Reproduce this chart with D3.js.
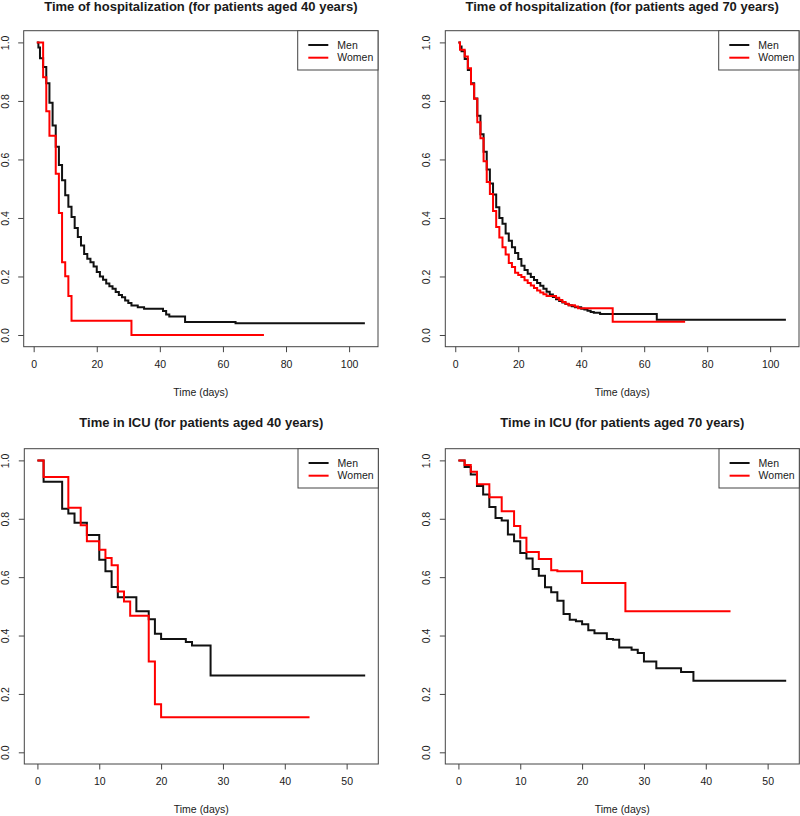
<!DOCTYPE html>
<html><head><meta charset="utf-8">
<script src="https://cdn.jsdelivr.net/npm/d3@7"></script>
<style>
body{margin:0;background:#fff}
svg{display:block}
text{font-family:"Liberation Sans",Arial,Helvetica,sans-serif;fill:#1a1a1a}
</style>
</head><body>
<script>
// ---------- DATA ----------
const seriesNames = ["Men", "Women"];
const seriesColors = ["#111111", "#ff0000"];

// Panel 1: hospitalization, 40 years
const hosp40MenTime = [1,1.5,2,3,4,5,6,7,8,9,10,11,12,13,14,15,16,17,18,19,20,21,22,23,24,25,26,27,28,29,30,31,33,35,41,42,43,48,64,105];
const hosp40MenSurv = [1.0,0.983,0.946,0.916,0.86,0.794,0.716,0.643,0.581,0.529,0.478,0.438,0.403,0.366,0.335,0.306,0.277,0.261,0.249,0.234,0.215,0.200,0.189,0.176,0.167,0.158,0.147,0.137,0.129,0.118,0.109,0.101,0.095,0.090,0.082,0.070,0.063,0.044,0.040,0.040];
const hosp40WomenTime = [1,3,4,5,7,8,9,10,11,12,31,73];
const hosp40WomenSurv = [1.0,0.881,0.765,0.681,0.551,0.417,0.249,0.201,0.133,0.049,0.0,0.0];

// Panel 2: hospitalization, 70 years
const hosp70MenTime = [1,1.5,2,3,4,5,6,7,8,9,10,11,12,13,14,15,16,17,18,19,20,21,22,23,24,25,26,27,28,29,30,31,32,33,34,35,36,37,38,40,41,42,43,44,46,64,105];
const hosp70MenSurv = [1.0,0.986,0.97,0.943,0.906,0.86,0.808,0.749,0.686,0.626,0.566,0.518,0.48,0.437,0.40,0.38,0.347,0.322,0.30,0.28,0.26,0.237,0.222,0.209,0.198,0.188,0.178,0.168,0.158,0.148,0.138,0.13,0.122,0.116,0.111,0.106,0.102,0.098,0.095,0.09,0.087,0.083,0.079,0.076,0.072,0.052,0.052];
const hosp70WomenTime = [1,1.5,3,4,5,6,7,8,9,10,11,12,13,14,15,16,17,18,19,20,21,22,23,24,25,26,27,28,29,32,33,34,35,36,38,39,50,73];
const hosp70WomenSurv = [1.0,0.975,0.952,0.912,0.857,0.807,0.727,0.672,0.594,0.523,0.482,0.424,0.369,0.333,0.300,0.275,0.246,0.232,0.213,0.205,0.198,0.187,0.178,0.169,0.161,0.152,0.145,0.139,0.133,0.127,0.12,0.113,0.107,0.102,0.097,0.091,0.045,0.045];

// Panel 3: ICU, 40 years
const icu40MenTime = [0,1,4,5,6,8,10,11,12,13,16,18,19,20,24,25,28,53];
const icu40MenSurv = [1.0,0.927,0.834,0.818,0.786,0.744,0.66,0.62,0.566,0.531,0.483,0.456,0.406,0.388,0.378,0.366,0.263,0.263];
const icu40WomenTime = [0,1,5,7,8,10,11,12,13,14,15,18,19,20,44];
const icu40WomenSurv = [1.0,0.943,0.838,0.778,0.723,0.694,0.666,0.641,0.551,0.517,0.468,0.311,0.165,0.12,0.12];

// Panel 4: ICU, 70 years
const icu70MenTime = [0,1,2,3,4,5,6,7,8,9,10,11,12,13,14,15,16,17,18,19,20,21,22,24,25,26,28,29,30,32,36,38,53];
const icu70MenSurv = [1.0,0.977,0.952,0.912,0.883,0.84,0.803,0.794,0.746,0.723,0.683,0.664,0.628,0.605,0.565,0.548,0.519,0.474,0.454,0.449,0.439,0.418,0.408,0.388,0.386,0.359,0.351,0.34,0.311,0.288,0.275,0.245,0.245];
const icu70WomenTime = [0,1,2,3,5,7,9,10,11,13,15,16,20,27,44];
const icu70WomenSurv = [1.0,0.984,0.961,0.918,0.874,0.826,0.775,0.735,0.686,0.662,0.624,0.62,0.58,0.483,0.483];

const hospXTicks = [0,20,40,60,80,100];
const icuXTicks = [0,10,20,30,40,50];
const yTicks = [0,0.2,0.4,0.6,0.8,1.0];
const xLabel = "Time (days)";

// ---------- LAYOUT ----------
const svg = d3.select("body").append("svg").attr("width",800).attr("height",816);

const panels = [
  {title:"Time of hospitalization (for patients aged 40 years)", box:{l:23.7,t:30.7,r:378,b:346.7},
   series:[[hosp40MenTime,hosp40MenSurv],[hosp40WomenTime,hosp40WomenSurv]], xTicks:hospXTicks},
  {title:"Time of hospitalization (for patients aged 70 years)", box:{l:445.3,t:30.7,r:799,b:346.7},
   series:[[hosp70MenTime,hosp70MenSurv],[hosp70WomenTime,hosp70WomenSurv]], xTicks:hospXTicks},
  {title:"Time in ICU (for patients aged 40 years)", box:{l:24.3,t:448.7,r:378.3,b:764},
   series:[[icu40MenTime,icu40MenSurv],[icu40WomenTime,icu40WomenSurv]], xTicks:icuXTicks},
  {title:"Time in ICU (for patients aged 70 years)", box:{l:445.3,t:448.7,r:799.3,b:764},
   series:[[icu70MenTime,icu70MenSurv],[icu70WomenTime,icu70WomenSurv]], xTicks:icuXTicks}
];

function padDomain(lo, hi){ const p=(hi-lo)*0.04; return [lo-p, hi+p]; }

panels.forEach(p => {
  const b = p.box;
  const allT = p.series.flatMap(s => s[0]);
  const x = d3.scaleLinear().domain(padDomain(d3.min(allT), d3.max(allT))).range([b.l, b.r]);
  const y = d3.scaleLinear().domain(padDomain(0, 1)).range([b.b, b.t]);
  const g = svg.append("g");

  // title
  g.append("text").attr("x",(b.l+b.r)/2).attr("y",Math.max(b.t-22, 11))
    .attr("text-anchor","middle").style("font-size","13px").style("font-weight","bold")
    .text(p.title);

  // x axis
  const xa = g.append("g").attr("transform",`translate(0,${b.b})`)
    .call(d3.axisBottom(x).tickValues(p.xTicks).tickSize(5.5).tickPadding(8).tickFormat(d3.format("d")));
  xa.select(".domain").remove();
  xa.selectAll("line").attr("stroke","#444");
  xa.selectAll("text").style("font-size","10.5px").attr("fill","#1a1a1a");

  // y axis (rotated labels)
  const ya = g.append("g").attr("transform",`translate(${b.l},0)`)
    .call(d3.axisLeft(y).tickValues(yTicks).tickSize(5.5).tickFormat(d3.format(".1f")));
  ya.select(".domain").remove();
  ya.selectAll("line").attr("stroke","#444");
  ya.selectAll("text")
    .attr("x",null).attr("dy",null)
    .attr("text-anchor","middle")
    .attr("transform","translate(-18.7,0) rotate(-90)")
    .attr("dy","0.35em")
    .style("font-size","10.5px").attr("fill","#1a1a1a");

  // x label
  g.append("text").attr("x",(b.l+b.r)/2).attr("y",b.b+45.5).attr("dy","0.35em")
    .attr("text-anchor","middle").style("font-size","10.5px").text(xLabel);

  // curves
  const line = d3.line().x(d=>x(d[0])).y(d=>y(d[1])).curve(d3.curveStepAfter);
  p.series.forEach((s,i) => {
    const pts = s[0].map((t,k)=>[t, s[1][k]]);
    g.append("path").attr("d",line(pts)).attr("fill","none")
      .attr("stroke",seriesColors[i]).attr("stroke-width",2);
  });

  // box
  g.append("rect").attr("x",b.l).attr("y",b.t).attr("width",b.r-b.l).attr("height",b.b-b.t)
    .attr("fill","none").attr("stroke","#444").attr("stroke-width",1);

  // legend
  const lw = 80.3, lh = 39.3;
  const lg = g.append("g").attr("transform",`translate(${b.r-lw},${b.t})`);
  lg.append("rect").attr("width",lw).attr("height",lh).attr("fill","#fff").attr("stroke","#444").attr("stroke-width",1);
  seriesNames.forEach((n,i)=>{
    const yy = 14.3 + i*12.7;
    lg.append("line").attr("x1",10.6).attr("x2",30.6).attr("y1",yy).attr("y2",yy)
      .attr("stroke",seriesColors[i]).attr("stroke-width",2);
    lg.append("text").attr("x",39.6).attr("y",yy).attr("dy","0.35em")
      .style("font-size","10.5px").text(n);
  });
});
</script>
</body></html>
